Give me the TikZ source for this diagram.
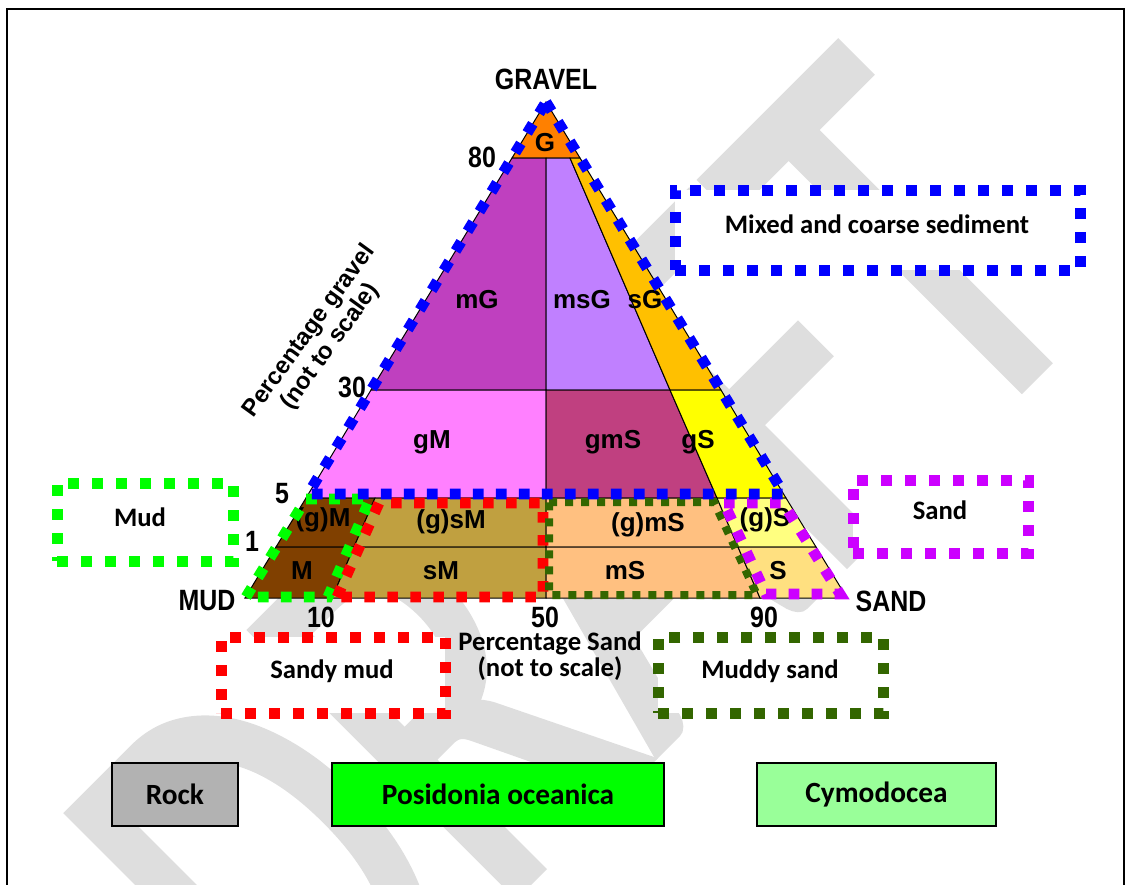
\documentclass[tikz,border=0pt]{standalone}
\usepackage{fontspec}
\setmainfont{Liberation Sans}
\newfontfamily\narrowfont{Liberation Sans}[FakeStretch=0.85]
\newfontfamily\calfont{Carlito}
\newfontfamily\wmfont{Carlito}[FakeBold=1.5]

% region colours
\definecolor{cG}{RGB}{255,128,0}
\definecolor{cmG}{RGB}{191,64,191}
\definecolor{cmsG}{RGB}{192,128,255}
\definecolor{csG}{RGB}{255,192,0}
\definecolor{cgM}{RGB}{255,128,255}
\definecolor{cgmS}{RGB}{192,64,128}
\definecolor{cgS}{RGB}{255,255,0}
\definecolor{cM}{RGB}{128,64,0}
\definecolor{csM}{RGB}{192,160,64}
\definecolor{cmS}{RGB}{255,192,128}
\definecolor{cpS}{RGB}{255,255,128}
\definecolor{cS}{RGB}{255,224,128}
% dotted outlines
\definecolor{dotblue}{RGB}{0,0,255}
\definecolor{dotgreen}{RGB}{0,255,0}
\definecolor{dotred}{RGB}{255,0,0}
\definecolor{dotolive}{RGB}{51,102,0}
\definecolor{dotpurple}{RGB}{204,0,255}
% legend and watermark
\definecolor{wmgrey}{RGB}{222,222,222}
\definecolor{rockgrey}{RGB}{178,178,178}
\definecolor{posgreen}{RGB}{0,255,0}
\definecolor{cymgreen}{RGB}{153,255,153}

\tikzset{
  zone/.style={draw=black, line width=0.75pt},
  zonelabel/.style={font=\bfseries\fontsize{19.5}{20}\selectfont, inner sep=0pt},
  axislabel/.style={font=\narrowfont\bfseries\fontsize{22}{22}\selectfont, inner sep=0pt},
  dots/.style={draw=#1, line width=8pt, dash pattern=on 8pt off 9.25pt},
  boxdots/.style={draw=#1, fill=white, line width=8.25pt, dash pattern=on 8.25pt off 9.75pt,
    inner sep=0pt},
  boxtext/.style={inner sep=0pt, font=\calfont\bfseries\fontsize{20}{24}\selectfont},
  legendbox/.style={draw=black, line width=1.5pt, inner sep=0pt,
    minimum height=63*0.75pt, font=\calfont\bfseries\fontsize{22}{24}\selectfont},
  wmark/.style={text=wmgrey, rotate=45, anchor=base west, inner sep=0pt,
    font=\wmfont\fontsize{436}{436}\selectfont}
}

\begin{document}
\begin{tikzpicture}[x=0.75pt, y=-0.75pt]

    \useasboundingbox (0,0) rectangle (1125,885);

    % watermark
    \begin{scope}
    \clip (0,0) rectangle (1125,885);
    \node[wmark] (draft) at (312,1098) {\scalebox{0.72}[1]{DRAFT}};
    \end{scope}

    % frame
    \draw[line width=1.5pt] (6.5,885) -- (6.5,8.5) -- (1123.5,8.5) -- (1123.5,885);

    % gravel zones
    \filldraw[zone, fill=cG] (546,102) -- (580,158) -- (512,158) -- cycle;
    \filldraw[zone, fill=cmG] (512,158) -- (546,158) -- (546,390) -- (371,390) -- cycle;
    \filldraw[zone, fill=cmsG] (546,158) -- (570,158) -- (670,390) -- (546,390) -- cycle;
    \filldraw[zone, fill=csG] (570,158) -- (580,158) -- (721,390) -- (670,390) -- cycle;
    \filldraw[zone, fill=cgM] (371,390) -- (546,390) -- (546,498) -- (306,498) -- cycle;
    \filldraw[zone, fill=cgmS] (546,390) -- (670,390) -- (717,498) -- (546,498) -- cycle;
    \filldraw[zone, fill=cgS] (670,390) -- (721,390) -- (786,498) -- (717,498) -- cycle;
    % mud and sand zones
    \filldraw[zone, fill=cM] (306,498) -- (375,498) -- (354,547) -- (276,547) -- cycle;
    \filldraw[zone, fill=cM] (276,547) -- (354,547) -- (332,598) -- (245,598) -- cycle;
    \filldraw[zone, fill=csM] (375,498) -- (546,498) -- (546,547) -- (354,547) -- cycle;
    \filldraw[zone, fill=csM] (354,547) -- (546,547) -- (546,598) -- (332,598) -- cycle;
    \filldraw[zone, fill=cmS] (546,498) -- (717,498) -- (738,547) -- (546,547) -- cycle;
    \filldraw[zone, fill=cmS] (546,547) -- (738,547) -- (760,598) -- (546,598) -- cycle;
    \filldraw[zone, fill=cpS] (717,498) -- (786,498) -- (816,547) -- (738,547) -- cycle;
    \filldraw[zone, fill=cS] (738,547) -- (816,547) -- (847,598) -- (760,598) -- cycle;

    % zone names
    \foreach \px/\py/\txt [count=\i] in {545/143/G, 477/300/mG, 582/300/msG, 645/300/sG,
        432/442/gM, 613/442/gmS, 698/442/gS, 323/520/(g)M, 451/522/(g)sM,
        648/525/(g)mS, 765/520/(g)S, 302/571/M, 441/571/sM, 625/571/mS, 778/571/S}
    \node[zonelabel] (zone\i) at (\px,\py) {\txt};

    % axis labels
    \foreach \px/\py/\txt [count=\i] in {546/79/GRAVEL, 207/601/MUD, 891/601/SAND,
        482/157/80, 352/387/30, 282/494/5, 252/541/1, 321/617/10, 545/617/50, 764/617/90}
    \node[axislabel] (axis\i) at (\px,\py) {\txt};

    \node[rotate=54, align=center, font=\bfseries\fontsize{18}{19.5}\selectfont] (gravelaxis)
        at (320,339) {Percentage gravel\\(not to scale)};
    \node[align=center, inner sep=0pt, font=\calfont\bfseries\fontsize{20}{19.5}\selectfont] (sandaxis)
        at (550,656) {Percentage Sand\\(not to scale)};

    % dotted class outlines
    \draw[dots=dotgreen] (246,597) -- (306,499) -- (370,499) -- (328,597) -- cycle;
    \draw[dots=dotred] (337,597) -- (379,503) -- (543,503) -- (543,597) -- cycle;
    \draw[dots=dotolive, line width=6pt, dash pattern=on 6pt off 6pt]
        (549,502) -- (714,502) -- (757,595) -- (549,595) -- cycle;
    \draw[dots=dotpurple] (724,503) -- (783,503) -- (840,594) -- (766,594) -- cycle;
    \draw[dots=dotblue] (546,102) -- (784,494) -- (308,494) -- cycle;

    % dotted class boxes
    \node[boxdots=dotblue, minimum width=405*0.75pt, minimum height=80*0.75pt] (mixedbox) at (877.5,230) {};
    \node[boxtext] (mixed) at (877,224) {Mixed and coarse sediment};
    \node[boxdots=dotgreen, minimum width=176*0.75pt, minimum height=78*0.75pt] (mudbox) at (145,522) {};
    \node[boxtext] (mud) at (140,517) {Mud};
    \node[boxdots=dotpurple, minimum width=175*0.75pt, minimum height=73*0.75pt] (sandbox) at (940.5,516.5) {};
    \node[boxtext] (sand) at (940,510) {Sand};
    \node[boxdots=dotred, minimum width=224*0.75pt, minimum height=76*0.75pt] (sandymudbox) at (333,675) {};
    \node[boxtext] (sandymud) at (332,671) {Sandy mud};
    \node[boxdots=dotolive, minimum width=225*0.75pt, minimum height=76*0.75pt] (muddysandbox) at (770.5,675) {};
    \node[boxtext] (muddysand) at (770,671) {Muddy sand};

    % habitat legend
    \node[legendbox, fill=rockgrey, minimum width=126*0.75pt] (rock) at (175,794.5) {Rock};
    \node[legendbox, fill=posgreen, minimum width=332*0.75pt] (posidonia) at (498,794.5) {Posidonia oceanica};
    \node[legendbox, fill=cymgreen, minimum width=239*0.75pt] (cymodocea) at (876.5,794.5) {Cymodocea};

\end{tikzpicture}
\end{document}
